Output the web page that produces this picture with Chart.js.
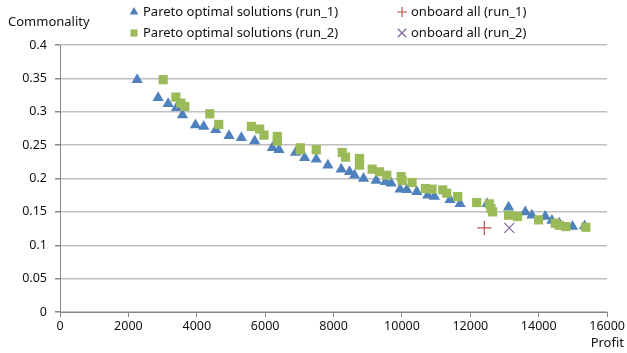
<!DOCTYPE html>
<html>
<head>
<meta charset="utf-8">
<script src="https://cdn.jsdelivr.net/npm/chart.js@4"></script>
<style>
  html, body { margin: 0; padding: 0; background: #fff; }
  #wrap { width: 627px; height: 353px; position: relative; }
</style>
</head>
<body>
<div id="wrap"><canvas id="myChart" width="627" height="353"></canvas></div>
<script>
// datos
const run1Profit = [2257, 2870, 3163, 3406, 3581, 3962, 4204, 4555, 4944, 5304, 5693, 6209, 6404, 6890, 7153, 7494, 7834, 8224, 8467, 8613, 8876, 9246, 9518, 9684, 9946, 10141, 10433, 10755, 10949, 11407, 11699, 12490, 13118, 13606, 13800, 14190, 14385, 14598, 14988, 15340];
const run1Commonality = [0.348, 0.321, 0.312, 0.306, 0.295, 0.280, 0.278, 0.273, 0.264, 0.261, 0.256, 0.246, 0.243, 0.239, 0.231, 0.229, 0.220, 0.214, 0.210, 0.205, 0.200, 0.197, 0.195, 0.193, 0.184, 0.183, 0.180, 0.175, 0.173, 0.168, 0.162, 0.162, 0.157, 0.150, 0.145, 0.143, 0.137, 0.133, 0.128, 0.129];

const run2Profit = [3017, 3387, 3533, 3650, 4380, 4642, 5596, 5839, 5966, 6355, 6355, 7027, 7027, 7494, 8253, 8350, 8759, 8759, 8759, 9129, 9343, 9557, 9976, 10005, 10297, 10686, 10881, 11192, 11309, 11630, 12185, 12555, 12604, 12652, 13119, 13382, 13995, 14482, 14598, 14793, 15377];
const run2Commonality = [0.348, 0.322, 0.313, 0.308, 0.297, 0.281, 0.278, 0.274, 0.265, 0.263, 0.256, 0.246, 0.243, 0.243, 0.239, 0.232, 0.230, 0.225, 0.220, 0.214, 0.210, 0.205, 0.203, 0.197, 0.194, 0.185, 0.184, 0.183, 0.178, 0.173, 0.164, 0.162, 0.155, 0.150, 0.145, 0.143, 0.138, 0.133, 0.130, 0.128, 0.127];

const onboard1 = [12409, 0.126];
const onboard2 = [13139, 0.126];

const seriesNames = ["Pareto optimal solutions (run_1)", "onboard all (run_1)", "Pareto optimal solutions (run_2)", "onboard all (run_2)"];
const xTicks = [0, 2000, 4000, 6000, 8000, 10000, 12000, 14000, 16000];
const yTicks = [0, 0.05, 0.1, 0.15, 0.2, 0.25, 0.3, 0.35, 0.4];

const FONT = "'Noto Sans', sans-serif";
const toPts = (xs, ys) => xs.map((x, i) => ({ x: x, y: ys[i] }));

// leyenda y titulos de ejes dibujados a mano
const extras = {
  id: "extras",
  afterDraw(chart) {
    const ctx = chart.ctx;
    const ds = chart.data.datasets;
    const slots = [[134, 12], [402, 12], [134, 33], [402, 33]];
    const legendOrder = [0, 1, 2, 3];
    ctx.save();
    legendOrder.forEach((k, i) => {
      const d = ds[k];
      const [x, y] = slots[i];
      ctx.fillStyle = d.backgroundColor;
      ctx.strokeStyle = d.borderColor;
      ctx.lineWidth = d.borderWidth;
      Chart.helpers.drawPoint(ctx, {
        pointStyle: d.pointStyle,
        radius: d.legendRadius,
        rotation: 0,
        borderWidth: d.borderWidth
      }, x, y);
      ctx.fillStyle = "#111";
      ctx.font = "13px " + FONT;
      ctx.textBaseline = "middle";
      ctx.textAlign = "left";
      ctx.fillText(seriesNames[k], x + 9, y);
    });
    ctx.font = "13px " + FONT;
    ctx.fillStyle = "#111";
    ctx.textAlign = "left";
    ctx.fillText("Commonality", 8, 22);
    ctx.textAlign = "right";
    ctx.fillText("Profit", 624, 343);
    ctx.restore();
  }
};

const ctx = document.getElementById("myChart").getContext("2d");
const chart = new Chart(ctx, {
  type: "scatter",
  data: {
    datasets: [
      {
        label: seriesNames[0],
        data: toPts(run1Profit, run1Commonality),
        pointStyle: "triangle",
        pointRadius: 6.5,
        legendRadius: 5,
        backgroundColor: "#4F81BD",
        borderColor: "#4F81BD",
        borderWidth: 0,
        order: 2
      },
      {
        label: seriesNames[1],
        data: [{ x: onboard1[0], y: onboard1[1] }],
        pointStyle: "cross",
        pointRadius: 7,
        legendRadius: 5,
        backgroundColor: "#C0504D",
        borderColor: "#C0504D",
        borderWidth: 1.2,
        order: 0
      },
      {
        label: seriesNames[2],
        data: toPts(run2Profit, run2Commonality),
        pointStyle: "rect",
        pointRadius: 6.5,
        legendRadius: 5,
        backgroundColor: "#9BBB59",
        borderColor: "#9BBB59",
        borderWidth: 0,
        order: 1
      },
      {
        label: seriesNames[3],
        data: [{ x: onboard2[0], y: onboard2[1] }],
        pointStyle: "crossRot",
        pointRadius: 7,
        legendRadius: 6,
        backgroundColor: "#8064A2",
        borderColor: "#8064A2",
        borderWidth: 1.2,
        order: 0
      }
    ]
  },
  options: {
    responsive: false,
    animation: false,
    events: [],
    layout: { padding: { top: 45, right: 19, left: 0, bottom: 0 } },
    plugins: {
      legend: { display: false },
      tooltip: { enabled: false }
    },
    scales: {
      x: {
        type: "linear",
        min: 0,
        max: 16000,
        afterBuildTicks: s => { s.ticks = xTicks.map(v => ({ value: v })); },
        afterFit: s => { s.height = 41; },
        grid: { drawOnChartArea: false, color: "#868686", tickLength: 5 },
        border: { color: "#868686" },
        ticks: {
          color: "#111",
          font: { family: FONT, size: 12.5 },
          padding: 2,
          maxRotation: 0,
          callback: v => String(v)
        }
      },
      y: {
        min: 0,
        max: 0.4,
        afterBuildTicks: s => { s.ticks = yTicks.map(v => ({ value: v })); },
        afterFit: s => { s.width = 60; },
        grid: { color: "#BFBFBF", lineWidth: 1.5, tickLength: 5, tickColor: "#868686" },
        border: { color: "#868686" },
        ticks: {
          color: "#111",
          font: { family: FONT, size: 12.5 },
          padding: 8,
          callback: v => String(Math.round(v * 100) / 100)
        }
      }
    }
  },
  plugins: [extras]
});
</script>
</body>
</html>
